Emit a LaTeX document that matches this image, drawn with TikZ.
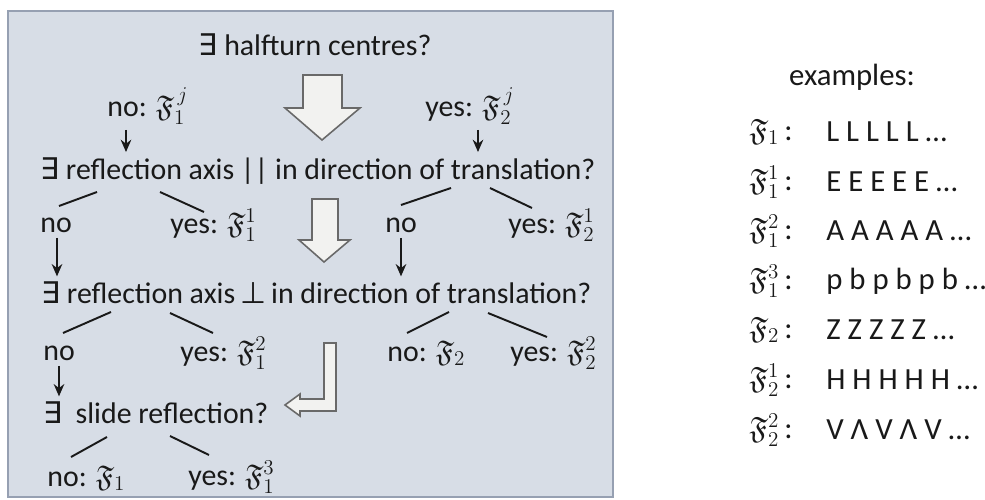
\documentclass[tikz,border=0pt]{standalone}
\usepackage{amsmath,amssymb}
\usepackage{fontspec}
\setmainfont{Carlito}
\newfontfamily\symfont{DejaVu Sans}
\usepackage{tikz}
\usetikzlibrary{arrows.meta,calc}
\definecolor{boxfill}  {RGB}{215,221,230}
\definecolor{boxline}  {RGB}{150,160,178}
\definecolor{hollowfill}{RGB}{242,242,240}
\definecolor{hollowline}{RGB}{105,105,105}
\definecolor{inkdark}  {RGB}{25,25,25}
\newcommand{\Fr}{\mathfrak{F}}
\newcommand{\Ex}{{\symfont ∃}}
\newcommand{\Perp}{{\symfont ⊥}}

\begin{document}
\begin{tikzpicture}[
  x=0.02cm, y=-0.02cm,
  font=\fontsize{17}{20}\selectfont, color=inkdark,
  txt/.style ={inner sep=0pt, anchor=west},
  quest/.style={inner sep=0pt, anchor=west},
  exrow/.style={inner sep=0pt, anchor=west, font=\fontsize{17.5}{21}\selectfont},
  exlab/.style={inner sep=0pt, anchor=east, font=\fontsize{17.5}{21}\selectfont},
  down/.style ={-{Stealth[length=7pt,width=6pt]}, line width=1.3pt,
                shorten <=3pt, shorten >=3pt},
  twig/.style ={line width=1.1pt},
  hollow/.style={draw=hollowline, fill=hollowfill, line width=0.9pt,
                 line join=miter},
]
\useasboundingbox (0,0) rectangle (985,500);

%-- LEFT: decision panel
\draw[draw=boxline, fill=boxfill, line width=1pt] (8,11) rectangle (613,497);

\node[inner sep=0pt] (q1) at (315,45) {\Ex\ halfturn centres?};
\node[txt] (n1) at (107,106) {no: $\Fr^{\,j}_1$};
\node[txt] (y1) at (425,106) {yes: $\Fr^{\,j}_2$};

\node[quest] (q2) at (40,171)
  {\Ex\ reflection axis || in direction of translation?};
\node[txt] (n2) at (40,225)  {no};
\node[txt] (y2) at (170,225) {yes: $\Fr^1_1$};
\node[txt] (n3) at (385,225) {no};
\node[txt] (y3) at (508,225) {yes: $\Fr^1_2$};

\node[quest] (q3) at (41,293)
  {\Ex\ reflection axis\,\Perp\,in direction of translation?};
\node[txt] (n4) at (43,353)  {no};
\node[txt] (y4) at (180,353) {yes: $\Fr^2_1$};
\node[txt] (n5) at (387,353) {no: $\Fr_2$};
\node[txt] (y5) at (510,353) {yes: $\Fr^2_2$};

\node[quest] (q4) at (43,413) {\Ex\ \ slide reflection?};
\node[txt] (n6) at (47,478)  {no: $\Fr_1$};
\node[txt] (y6) at (188,477) {yes: $\Fr^3_1$};

%-- small arrows
\draw[down] ([xshift=0.38cm]n1.south west) -- ([xshift=0.38cm]n1.south west |- q2.north);
\draw[down] ([xshift=1.06cm]y1.south west) -- ([xshift=1.06cm]y1.south west |- q2.north);
\draw[down] ([xshift=0.34cm]n2.south west) -- ([xshift=0.34cm]n2.south west |- q3.north);
\draw[down] ([xshift=0.32cm]n3.south west) -- ([xshift=0.32cm]n3.south west |- q3.north);
\draw[down] ([xshift=0.32cm]n4.south west) -- ([xshift=0.32cm]n4.south west |- q4.north);

%-- branches
\draw[twig] (59,206) -- (97,192);   \draw[twig] (160,192) -- (204,212);
\draw[twig] (401,205) -- (451,188); \draw[twig] (490,188) -- (532,208);
\draw[twig] (63,333) -- (111,312);  \draw[twig] (170,313) -- (213,333);
\draw[twig] (407,333) -- (449,312); \draw[twig] (488,313) -- (547,337);
\draw[twig] (71,457) -- (107,437);  \draw[twig] (170,436) -- (209,455);

%-- hollow arrows
\draw[hollow] (303,75) -- (342,75) -- (342,108) -- (360,108) -- (322,140)
  -- (285,108) -- (303,108) -- cycle;
\draw[hollow] (312,199) -- (338,199) -- (338,240) -- (350,240) -- (324,262)
  -- (299,240) -- (312,240) -- cycle;
\draw[hollow] (324,343) -- (336,343) -- (336,411) -- (300,411) -- (300,416)
  -- (285,405) -- (300,394) -- (300,399) -- (324,399) -- cycle;

%-- RIGHT: examples
\node[inner sep=0pt, font=\fontsize{17.5}{21}\selectfont] (ex) at (852,77) {examples:};

\node[exlab] (l1) at (793,132) {$\Fr_1$\,:};
\node[exlab] (l2) at (793,182) {$\Fr^1_1$\,:};
\node[exlab] (l3) at (793,231) {$\Fr^2_1$\,:};
\node[exlab] (l4) at (793,281) {$\Fr^3_1$\,:};
\node[exlab] (l5) at (793,330) {$\Fr_2$\,:};
\node[exlab] (l6) at (793,380) {$\Fr^1_2$\,:};
\node[exlab] (l7) at (793,430) {$\Fr^2_2$\,:};

\node[exrow] (e1) at (826,132) {L L L L L …};
\node[exrow] (e2) at (826,182) {E E E E E …};
\node[exrow] (e3) at (826,231) {A A A A A …};
\node[exrow] (e4) at (826,281) {p b p b p b …};
\node[exrow] (e5) at (826,330) {Z Z Z Z Z …};
\node[exrow] (e6) at (826,380) {H H H H H …};
\node[exrow] (e7) at (826,430) {V Λ V Λ V …};

\end{tikzpicture}
\end{document}
